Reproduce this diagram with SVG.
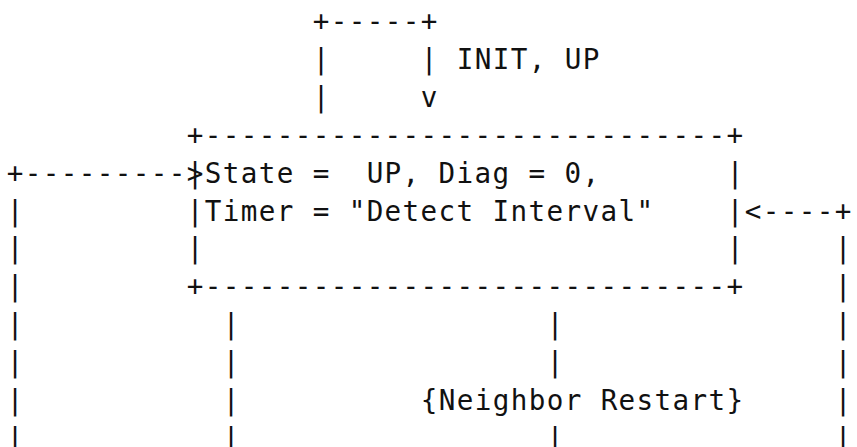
<svg xmlns="http://www.w3.org/2000/svg" width="857" height="447" viewBox="0 0 857 447">
<style>
text{font-family:"DejaVu Sans Mono","Liberation Mono",monospace;font-size:27.6px;letter-spacing:1.38px;fill:#111;white-space:pre}
</style>
<rect width="857" height="447" fill="#fff"/>
<g transform="translate(0.7,0)">
<g id="state-up" xml:space="preserve">
<text x="186" y="144.7">+-----------------------------+</text>
<text x="186" y="182.6">|State =  UP, Diag = 0,</text>
<text x="726" y="182.6">|</text>
<text x="186" y="220.5">|Timer = "Detect Interval"</text>
<text x="726" y="220.5">|</text>
<text x="186" y="258.4">|</text>
<text x="726" y="258.4">|</text>
<text x="186" y="296.3">+-----------------------------+</text>
</g>
<g id="connectors" xml:space="preserve">
<g id="init-up-loop">
<text x="312" y="31">+-----+</text>
<text x="312" y="68.9">|</text>
<text x="420" y="68.9">|</text>
<text x="456" y="68.9">INIT, UP</text>
<text x="312" y="106.8">|</text>
<text x="420" y="106.8">v</text>
</g>
<g id="left-loop">
<text x="6" y="182.6">+---------&gt;</text>
<text x="6" y="220.5">|</text>
<text x="6" y="258.4">|</text>
<text x="6" y="296.3">|</text>
<text x="6" y="334.2">|</text>
<text x="6" y="372.1">|</text>
<text x="6" y="410">|</text>
<text x="6" y="447.9">|</text>
</g>
<g id="right-loop">
<text x="744" y="220.5">&lt;----+</text>
<text x="834" y="258.4">|</text>
<text x="834" y="296.3">|</text>
<text x="834" y="334.2">|</text>
<text x="834" y="372.1">|</text>
<text x="834" y="410">|</text>
<text x="834" y="447.9">|</text>
</g>
<g id="down-left">
<text x="222" y="334.2">|</text>
<text x="222" y="372.1">|</text>
<text x="222" y="410">|</text>
<text x="222" y="447.9">|</text>
</g>
<g id="neighbor-restart">
<text x="546" y="334.2">|</text>
<text x="546" y="372.1">|</text>
<text x="420" y="410">{Neighbor Restart}</text>
<text x="546" y="447.9">|</text>
</g>
</g>
</g>
</svg>
